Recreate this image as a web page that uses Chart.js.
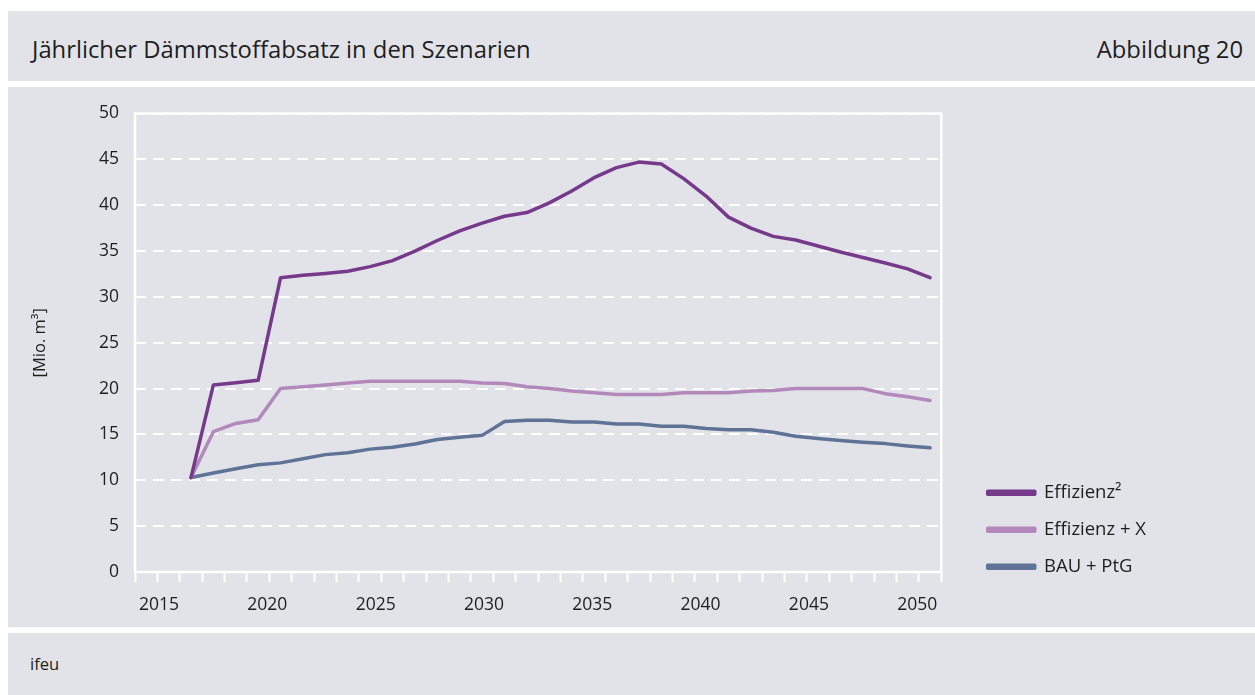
<!DOCTYPE html>
<html>
<head>
<meta charset="UTF-8">
<title>Jährlicher Dämmstoffabsatz in den Szenarien</title>
<script src="https://cdn.jsdelivr.net/npm/chart.js"></script>
<style>
  body { margin: 0; background: #fff; font-family: "Open Sans", sans-serif; color: #1e1e1e; }
  .panel { position: absolute; left: 8px; width: 1247px; background: #e2e3e8; }
  #head { top: 11px; height: 70px; }
  #head .t { position: absolute; left: 24px; top: 3px; line-height: 70px; font-size: 23.8px; }
  #head .a { position: absolute; right: 12px; top: 3px; line-height: 70px; font-size: 23.8px; }
  #plot { top: 87px; height: 540px; }
  #foot { top: 633px; height: 62px; }
  #foot .s { position: absolute; left: 22px; top: 0; line-height: 62px; font-size: 16.5px; }
</style>
</head>
<body>
<div class="panel" id="head"><span class="t">Jährlicher Dämmstoffabsatz in den Szenarien</span><span class="a">Abbildung 20</span></div>
<div class="panel" id="plot"><canvas id="c" width="1247" height="540"></canvas></div>
<div class="panel" id="foot"><span class="s">ifeu</span></div>

<script>
// category slots on the x axis (one per year)
const axisYears = ['2015','2016','2017','2018','2019','2020','2021','2022','2023','2024','2025','2026',
  '2027','2028','2029','2030','2031','2032','2033','2034','2035','2036','2037','2038','2039','2040',
  '2041','2042','2043','2044','2045','2046','2047','2048','2049','2050'];
const labelYears = [2015, 2020, 2025, 2030, 2035, 2040, 2045, 2050];

// data years
const years = [2017, 2018, 2019, 2020, 2021, 2022, 2023, 2024, 2025, 2026, 2027, 2028, 2029, 2030,
  2031, 2032, 2033, 2034, 2035, 2036, 2037, 2038, 2039, 2040, 2041, 2042, 2043, 2044, 2045, 2046,
  2047, 2048, 2049, 2050];

// Mio. m3
const effizienz2 = [10.3, 20.4, 20.65, 20.9, 32.1, 32.35, 32.55, 32.8, 33.3, 33.95, 35.0, 36.15, 37.2, 38.05,
  38.8, 39.2, 40.25, 41.55, 43.0, 44.1, 44.7, 44.5, 42.9, 41.0, 38.7, 37.5, 36.6, 36.2, 35.55, 34.9,
  34.3, 33.7, 33.05, 32.1];
const effizienzX = [10.3, 15.3, 16.2, 16.6, 20.0, 20.2, 20.4, 20.6, 20.8, 20.8, 20.8, 20.8, 20.8, 20.6,
  20.55, 20.2, 20.0, 19.75, 19.55, 19.35, 19.35, 19.35, 19.55, 19.55, 19.55, 19.75, 19.8, 20.0, 20.0, 20.0,
  20.0, 19.45, 19.1, 18.7];
const bauPtg = [10.3, 10.8, 11.25, 11.7, 11.9, 12.35, 12.8, 13.0, 13.4, 13.6, 13.95, 14.45, 14.7, 14.9,
  16.4, 16.55, 16.55, 16.35, 16.35, 16.15, 16.15, 15.9, 15.9, 15.65, 15.5, 15.5, 15.25, 14.8, 14.55, 14.35,
  14.15, 14.0, 13.75, 13.55];

const txt = '#1e1e1e';
const tickFont = { family: '"Open Sans", sans-serif', size: 17.5 };

function series(label, vals, color) {
  return {
    label: label,
    data: years.map((yr, i) => ({ x: String(yr), y: vals[i] })),
    borderColor: color,
    backgroundColor: color,
    borderWidth: 3.5,
    borderCapStyle: 'round',
    borderJoinStyle: 'round',
    pointRadius: 0,
    tension: 0
  };
}

// white frame round the plot, and legend placement
const frame = {
  id: 'frame',
  afterLayout(chart) {
    const lg = chart.legend;
    lg.left = chart.chartArea.right + 28;
    lg.right = lg.left + 260;
    lg.top = 378;
    lg.bottom = lg.top + 200;
  },
  beforeDatasetsDraw(chart) {
    const { ctx, chartArea: a } = chart;
    ctx.save();
    ctx.strokeStyle = '#fff';
    ctx.lineWidth = 2.5;
    ctx.strokeRect(a.left, a.top, a.right - a.left, a.bottom - a.top);
    ctx.restore();
  }
};

new Chart(document.getElementById('c'), {
  type: 'line',
  data: {
    datasets: [
      series('Effizienz²', effizienz2, '#763a8b'),
      series('Effizienz + X', effizienzX, '#b388bb'),
      series('BAU + PtG', bauPtg, '#5f7396')
    ]
  },
  options: {
    responsive: false,
    animation: false,
    layout: { padding: { left: 0, right: 127, top: 26, bottom: 6 } },
    plugins: {
      legend: {
        position: 'right',
        align: 'start',
        labels: { boxWidth: 47, boxHeight: 3, padding: 18.5, color: txt,
                  font: { family: '"Open Sans", sans-serif', size: 18.5 } }
      },
      tooltip: { enabled: false }
    },
    scales: {
      x: {
        type: 'category',
        labels: axisYears,
        offset: true,
        grid: { offset: true, drawOnChartArea: false, drawTicks: true, tickLength: 10,
                color: '#fff', tickColor: '#fff', tickWidth: 2 },
        border: { display: false },
        ticks: { display: false }
      },
      xLab: {
        type: 'linear',
        position: 'bottom',
        weight: 1,
        min: 2013.89,
        max: 2051.11,
        afterBuildTicks: s => { s.ticks = labelYears.map(v => ({ value: v })); },
        grid: { display: false },
        border: { display: false },
        ticks: { callback: v => String(v), padding: 5, color: txt, font: tickFont,
                 autoSkip: false, maxRotation: 0 }
      },
      y: {
        min: 0,
        max: 50,
        afterFit: s => { s.width = 127; },
        ticks: { stepSize: 5, padding: 16, color: txt, font: tickFont },
        grid: { color: '#fff', lineWidth: 2, drawTicks: false },
        border: { display: false, dash: [11, 7] },
        title: { display: true, text: '[Mio. m³]', color: txt,
                 font: { family: '"Open Sans", sans-serif', size: 16.5 }, padding: { top: 22, bottom: 0 } }
      }
    }
  },
  plugins: [frame]
});
</script>
</body>
</html>
